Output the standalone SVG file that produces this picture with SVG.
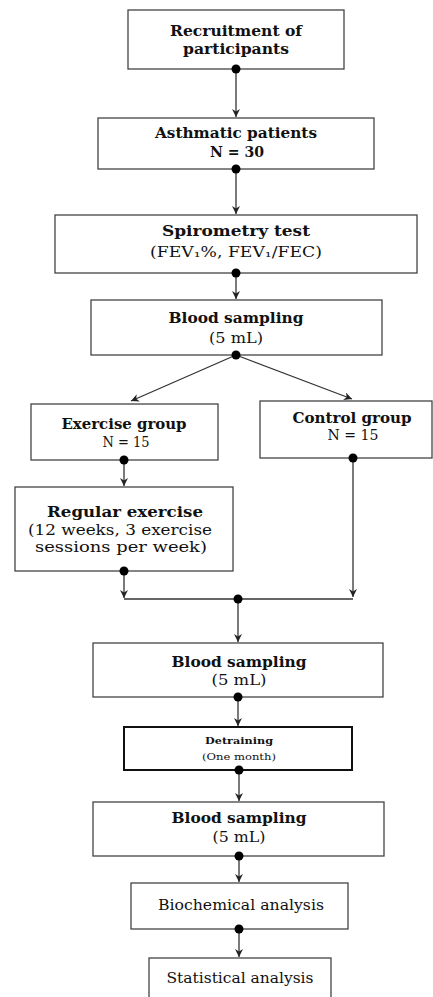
<svg xmlns="http://www.w3.org/2000/svg" width="433" height="997" viewBox="0 0 433 997">
<style>
.box{fill:#fff;stroke:#444;stroke-width:1.3}
.thick{fill:#fff;stroke:#111;stroke-width:2}
text{font-family:"DejaVu Serif","Liberation Serif",serif;fill:#111;text-anchor:middle}
.b{font-size:15px;font-weight:bold}
.n{font-size:14.5px}
.s{font-size:10px}
.sb{font-size:10px;font-weight:bold}
.ln{stroke:#333;stroke-width:1.3;fill:none}
.dot{fill:#000}
</style>
<defs>
<marker id="arr" viewBox="0 0 10 10" refX="10" refY="5" markerWidth="8" markerHeight="8" orient="auto" markerUnits="userSpaceOnUse">
<path d="M0,0 L10,5 L0,10 L3,5 Z" fill="#222"/>
</marker>
</defs>
<rect width="433" height="997" fill="#fff"/>
<g id="recruitment">
<rect class="box" x="128" y="10" width="216" height="59"/>
<text class="b" x="236" y="36" textLength="132" lengthAdjust="spacingAndGlyphs">Recruitment of</text>
<text class="b" x="236" y="54" textLength="106" lengthAdjust="spacingAndGlyphs">participants</text>
</g>
<g id="asthmatic">
<rect class="box" x="98" y="118" width="276" height="51"/>
<text class="b" x="236" y="138" textLength="162" lengthAdjust="spacingAndGlyphs">Asthmatic patients</text>
<text class="b" x="237" y="157" textLength="54" lengthAdjust="spacingAndGlyphs">N = 30</text>
</g>
<g id="spirometry">
<rect class="box" x="55" y="215" width="362" height="58"/>
<text class="b" x="236" y="236" textLength="148" lengthAdjust="spacingAndGlyphs">Spirometry test</text>
<text class="n" x="236" y="257" textLength="172" lengthAdjust="spacingAndGlyphs">(FEV₁%, FEV₁/FEC)</text>
</g>
<g id="blood1">
<rect class="box" x="91" y="300" width="291" height="55"/>
<text class="b" x="236" y="323" textLength="135" lengthAdjust="spacingAndGlyphs">Blood sampling</text>
<text class="n" x="236" y="343" textLength="54" lengthAdjust="spacingAndGlyphs">(5 mL)</text>
</g>
<g id="exercise-group">
<rect class="box" x="31" y="404" width="187" height="56"/>
<text class="b" x="124" y="429" textLength="125" lengthAdjust="spacingAndGlyphs">Exercise group</text>
<text class="n" x="126" y="447" textLength="47" lengthAdjust="spacingAndGlyphs">N = 15</text>
</g>
<g id="control-group">
<rect class="box" x="260" y="401" width="172" height="57"/>
<text class="b" x="352" y="423" textLength="119" lengthAdjust="spacingAndGlyphs">Control group</text>
<text class="n" x="353" y="440" textLength="51" lengthAdjust="spacingAndGlyphs">N = 15</text>
</g>
<g id="regular-exercise">
<rect class="box" x="15" y="487" width="218" height="84"/>
<text class="b" x="125" y="517" textLength="156" lengthAdjust="spacingAndGlyphs">Regular exercise</text>
<text class="n" x="120" y="535" textLength="184" lengthAdjust="spacingAndGlyphs">(12 weeks, 3 exercise</text>
<text class="n" x="121" y="552" textLength="172" lengthAdjust="spacingAndGlyphs">sessions per week)</text>
</g>
<g id="blood2">
<rect class="box" x="93" y="643" width="290" height="54"/>
<text class="b" x="239" y="667" textLength="135" lengthAdjust="spacingAndGlyphs">Blood sampling</text>
<text class="n" x="239" y="685" textLength="55" lengthAdjust="spacingAndGlyphs">(5 mL)</text>
</g>
<g id="detraining">
<rect class="thick" x="124" y="727" width="228" height="43"/>
<text class="sb" x="239" y="744" textLength="68" lengthAdjust="spacingAndGlyphs">Detraining</text>
<text class="s" x="239" y="760" textLength="74" lengthAdjust="spacingAndGlyphs">(One month)</text>
</g>
<g id="blood3">
<rect class="box" x="93" y="802" width="291" height="54"/>
<text class="b" x="239" y="823" textLength="135" lengthAdjust="spacingAndGlyphs">Blood sampling</text>
<text class="n" x="239" y="842" textLength="53" lengthAdjust="spacingAndGlyphs">(5 mL)</text>
</g>
<g id="biochemical">
<rect class="box" x="131" y="883" width="217" height="46"/>
<text class="n" x="241" y="910" textLength="166" lengthAdjust="spacingAndGlyphs">Biochemical analysis</text>
</g>
<g id="statistical">
<rect class="box" x="149" y="958" width="182" height="50"/>
<text class="n" x="240" y="983" textLength="147" lengthAdjust="spacingAndGlyphs">Statistical analysis</text>
</g>
<g id="connectors">
<line class="ln" x1="236" y1="69" x2="236" y2="117" marker-end="url(#arr)"/>
<line class="ln" x1="236" y1="169" x2="236" y2="214" marker-end="url(#arr)"/>
<line class="ln" x1="236" y1="273" x2="236" y2="299" marker-end="url(#arr)"/>
<line class="ln" x1="236" y1="355" x2="131" y2="401" marker-end="url(#arr)"/>
<line class="ln" x1="236" y1="355" x2="352" y2="399" marker-end="url(#arr)"/>
<line class="ln" x1="124" y1="460" x2="124" y2="486" marker-end="url(#arr)"/>
<line class="ln" x1="124" y1="571" x2="124" y2="598" marker-end="url(#arr)"/>
<line class="ln" x1="353" y1="458" x2="353" y2="597" marker-end="url(#arr)"/>
<line class="ln" x1="124" y1="599" x2="353" y2="599"/>
<line class="ln" x1="238" y1="599" x2="238" y2="642" marker-end="url(#arr)"/>
<line class="ln" x1="238" y1="697" x2="238" y2="726" marker-end="url(#arr)"/>
<line class="ln" x1="239" y1="770" x2="239" y2="801" marker-end="url(#arr)"/>
<line class="ln" x1="239" y1="856" x2="239" y2="882" marker-end="url(#arr)"/>
<line class="ln" x1="239" y1="929" x2="239" y2="957" marker-end="url(#arr)"/>
<circle class="dot" cx="236" cy="69" r="4.5"/>
<circle class="dot" cx="236" cy="169" r="4.5"/>
<circle class="dot" cx="236" cy="273" r="4.5"/>
<circle class="dot" cx="236" cy="355" r="4.5"/>
<circle class="dot" cx="124" cy="460" r="4.5"/>
<circle class="dot" cx="124" cy="571" r="4.5"/>
<circle class="dot" cx="353" cy="458" r="4.5"/>
<circle class="dot" cx="238" cy="599" r="4.5"/>
<circle class="dot" cx="238" cy="697" r="4.5"/>
<circle class="dot" cx="239" cy="770" r="4.5"/>
<circle class="dot" cx="239" cy="856" r="4.5"/>
<circle class="dot" cx="239" cy="929" r="4.5"/>
</g>
</svg>
